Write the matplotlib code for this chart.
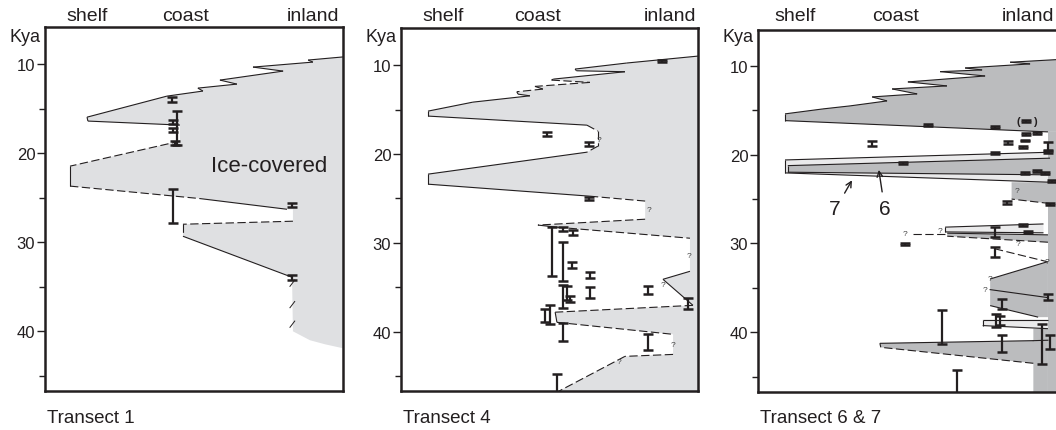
import numpy as np
import matplotlib.pyplot as plt
from matplotlib.patches import Polygon

plt.rcParams['font.family'] = ['Liberation Sans', 'DejaVu Sans']
plt.rcParams['lines.scale_dashes'] = False

ink = '#231f20'
ice = '#dfe0e2'
ice_dark = '#bbbcbe'
pale = '#eaeaeb'

zones = ['shelf', 'coast', 'inland']

# ice margin outlines: x = position along transect (0 shelf .. 1 inland), kya = age
# edge flag for the segment to the next vertex: 1 mapped, 0 inferred, None no line
t1_x = [1.0, 0.883, 0.899, 0.698, 0.799, 0.587, 0.644, 0.513, 0.530, 0.409,
        0.141, 0.144, 0.453, 0.453, 0.084, 0.084, 0.52, 0.812, 0.832, 0.832,
        0.463, 0.463, 0.829, 0.832, 0.889, 0.94, 1.0]
t1_kya = [9.2, 9.55, 9.78, 10.34, 10.79, 11.8, 12.25, 12.7, 13.03, 13.6,
          15.96, 16.4, 16.85, 18.65, 21.46, 23.7, 25.1, 26.3, 26.3, 27.64,
          27.98, 29.33, 33.93, 40.0, 41.0, 41.46, 41.9]
t1_edge = [1, 1, 1, 1, 1, 1, 1, 1, 1, 1,
           1, 1, None, 0, 1, 0, 1, None, None, 0,
           0, 1, None, None, None, None, None]

# short inferred ticks along the inland margin
t1_ticks_kya = [34.6, 37.0, 39.2]

t1_date_x = [0.425, 0.442, 0.43, 0.43, 0.435, 0.43, 0.828, 0.828]
t1_date_lo = [13.75, 15.25, 16.3, 17.2, 18.65, 24.05, 25.6, 33.65]
t1_date_hi = [14.25, 19.05, 16.7, 17.6, 19.05, 27.8, 26.0, 34.2]

t4_x = [1.0, 0.76, 0.586, 0.591, 0.754, 0.513, 0.507, 0.636, 0.451, 0.478,
        0.39, 0.394, 0.434, 0.242, 0.091, 0.091, 0.626, 0.663, 0.663, 0.626,
        0.091, 0.091, 0.636, 0.822, 0.822, 0.461, 0.525, 0.973, 0.973, 0.882,
        0.983, 0.519, 0.525, 0.916, 0.916, 0.754, 0.525, 1.0]
t4_kya = [8.99, 9.77, 10.45, 10.64, 10.75, 11.58, 11.69, 11.95, 12.4, 12.7,
          13.0, 13.27, 13.46, 14.17, 15.18, 15.74, 16.76, 17.43, 19.12, 19.8,
          22.27, 23.4, 24.75, 25.3, 27.34, 28.0, 28.24, 29.48, 33.2, 34.1,
          37.03, 37.8, 38.94, 40.29, 42.55, 42.77, 46.8, 46.8]
t4_edge = [1, 1, 1, 1, 1, 1, 0, 0, 0, 0,
           1, 1, 1, 1, 1, 1, 0, 0, 0, 1,
           1, 1, 0, None, 0, 1, 0, None, 1, 1,
           0, 1, 0, None, 0, 0, None, None]

t4_date_x = [0.88, 0.49, 0.634, 0.634, 0.507, 0.547, 0.578, 0.547, 0.575, 0.636,
             0.558, 0.569, 0.544, 0.636, 0.831, 0.967, 0.485, 0.5, 0.544, 0.833, 0.524]
t4_date_lo = [9.45, 17.55, 18.7, 24.8, 28.2, 28.2, 28.6, 29.95, 32.15, 33.3,
              34.9, 36.0, 34.7, 35.0, 34.8, 36.15, 37.4, 37.0, 39.0, 40.2, 44.8]
t4_date_hi = [9.7, 17.95, 19.1, 25.2, 33.75, 28.65, 29.1, 34.3, 32.8, 34.0,
              36.4, 36.7, 37.3, 36.2, 35.7, 37.4, 38.9, 39.1, 41.05, 42.05, 47.5]
t4_query_x = [0.668, 0.836, 0.971, 0.883, 0.915, 0.735]
t4_query_kya = [18.33, 26.3, 31.4, 34.66, 41.4, 43.4]

# transect 6 & 7: separate ice bodies
t67_upper_x = [1.0, 0.846, 0.913, 0.695, 0.752, 0.611, 0.762, 0.503, 0.634, 0.45,
               0.534, 0.383, 0.433, 0.309, 0.218, 0.0906, 0.0906, 0.973, 1.0]
t67_upper_kya = [9.29, 9.58, 9.77, 10.23, 10.45, 10.64, 11.13, 11.8, 12.25, 12.59,
                 13.15, 13.49, 13.94, 14.5, 14.84, 15.4, 16.16, 17.43, 17.43]
t67_upper_edge = [1] * 17 + [None, None]

t67_margin_x = [0.973, 1.0, 1.0, 0.973]
t67_margin_kya = [17.43, 17.43, 46.8, 46.8]
t67_margin_edge = [None, None, None, None]

t7_x = [0.0906, 0.98, 0.98, 0.0906]
t7_kya = [20.59, 19.72, 23.1, 22.05]
t7_edge = [1, None, 1, 1]

t6_x = [0.1, 0.98, 0.98, 0.1]
t6_kya = [21.23, 20.39, 22.27, 21.97]
t6_edge = [1, None, 1, 1]

t67_patch_x = [0.851, 0.973, 0.98, 0.851]
t67_patch_kya = [23.1, 23.1, 25.5, 25.0]
t67_patch_edge = [None, None, 0, None]

t67_lens28_x = [0.628, 0.958, 0.958, 0.628]
t67_lens28_kya = [28.16, 27.8, 28.8, 28.7]
t67_lens28_edge = [1, None, 1, 1]

t67_lobe29_x = [0.635, 0.973, 0.973, 0.635]
t67_lobe29_kya = [28.84, 29.03, 29.86, 29.18]
t67_lobe29_edge = [1, None, 0, None]

t67_wedge_x = [0.779, 0.973, 0.973, 0.94, 0.779]
t67_wedge_kya = [34.0, 32.04, 38.3, 38.3, 37.0]
t67_wedge_edge = [1, None, None, 1, None]

t67_lens39_x = [0.754, 0.973, 0.973, 0.754]
t67_lens39_kya = [38.57, 38.57, 39.6, 39.25]
t67_lens39_edge = [1, None, 1, 1]

t67_lobe41_x = [0.409, 0.924, 0.924, 0.973, 0.973, 0.924, 0.924, 0.412]
t67_lobe41_kya = [41.25, 40.95, 39.6, 39.6, 46.8, 46.8, 43.5, 41.7]
t67_lobe41_edge = [1, None, None, None, None, None, 0, 1]

# loose margin traces (x0, kya0, x1, kya1, mapped)
t67_traces = [(0.52, 28.9, 0.628, 28.9, 0),
              (0.795, 30.6, 0.969, 32.04, 0),
              (0.779, 35.2, 0.973, 36.1, 1),
              (0.924, 40.95, 0.973, 40.9, 1)]

t67_date_x = [0.569, 0.795, 0.382, 0.795, 0.488, 0.9, 0.84, 0.9, 0.935, 0.896,
              0.89, 0.974, 0.974, 0.896, 0.935, 0.963, 0.985, 0.834, 0.98, 0.493,
              0.795, 0.89, 0.907, 0.795, 0.974, 0.818, 0.616, 0.8, 0.812, 0.818,
              0.952, 0.98, 0.667]
t67_date_lo = [16.5, 16.75, 18.4, 19.7, 20.85, 16.05, 18.45, 17.55, 17.45, 18.3,
               19.05, 18.6, 19.6, 21.95, 21.75, 21.95, 22.8, 25.25, 25.45, 29.95,
               28.15, 27.8, 28.65, 30.4, 35.7, 36.2, 37.45, 37.9, 38.2, 40.35,
               39.05, 40.3, 44.3]
t67_date_hi = [16.75, 17.0, 19.0, 19.95, 21.1, 16.3, 18.75, 17.8, 17.7, 18.5,
               19.3, 19.5, 19.85, 22.2, 22.0, 22.2, 23.05, 25.5, 25.7, 30.2,
               29.3, 28.0, 28.85, 31.5, 36.4, 37.4, 41.3, 39.4, 39.2, 42.25,
               43.55, 41.9, 47.5]
t67_query_x = [0.868, 0.493, 0.611, 0.874, 0.969, 0.779, 0.762]
t67_query_kya = [24.04, 28.9, 28.55, 29.97, 32.04, 34.0, 35.2]


def draw_ice(ax, xs, ks, edges, color):
    ax.add_patch(Polygon(np.column_stack([xs, ks]), closed=True,
                         facecolor=color, edgecolor='none', zorder=1))
    n = len(xs)
    for i, e in enumerate(edges):
        if e is None:
            continue
        j = (i + 1) % n
        ax.plot([xs[i], xs[j]], [ks[i], ks[j]], color=ink, lw=0.8,
                ls='-' if e == 1 else (0, (6, 2.5)), zorder=3,
                solid_capstyle='butt')


def draw_dates(ax, xs, lo, hi):
    lo = np.array(lo)
    hi = np.array(hi)
    mid = (lo + hi) / 2
    ax.errorbar(xs, mid, yerr=[mid - lo, hi - mid], fmt='none', ecolor=ink,
                elinewidth=1.6, capsize=3.5, capthick=1.8, zorder=4)


def draw_queries(ax, xs, ks):
    for x, k in zip(xs, ks):
        ax.text(x, k, '?', fontsize=6, color='#444444', ha='center',
                va='center', zorder=5)


def setup(ax, top, zone_x, title):
    ax.set_xlim(0, 1)
    ax.set_ylim(46.7, top)
    ax.set_xticks([])
    ax.set_yticks([10, 20, 30, 40])
    ax.set_yticks([15, 25, 35, 45], minor=True)
    ax.tick_params(axis='y', which='major', length=6, width=1, pad=1,
                   labelsize=12, colors=ink)
    ax.tick_params(axis='y', which='minor', length=4, width=1, colors=ink)
    for s in ax.spines.values():
        s.set_linewidth(1.8)
        s.set_color(ink)
    for name, zx in zip(zones, zone_x):
        ax.annotate(name, xy=(zx, 0.951), xycoords=('axes fraction', 'figure fraction'),
                    ha='center', va='baseline', fontsize=14, color=ink)
    ax.annotate('Kya', xy=(0, 0.912), xycoords=('axes fraction', 'figure fraction'),
                xytext=(-3, 0), textcoords='offset points',
                ha='right', va='center', fontsize=13, color=ink)
    ax.annotate(title, xy=(0, 0.0186), xycoords=('axes fraction', 'figure fraction'),
                xytext=(1.5, 0), textcoords='offset points',
                ha='left', va='baseline', fontsize=13.5, color=ink)


fig = plt.figure(figsize=(10.56, 4.31), dpi=100)
ax1 = fig.add_axes([45 / 1056, 39 / 431, 298 / 1056, 364 / 431])
ax2 = fig.add_axes([401 / 1056, 38.7 / 431, 297 / 1056, 363.3 / 431])
ax3 = fig.add_axes([758 / 1056, 38.3 / 431, 300 / 1056, 361.7 / 431])

# Transect 1
setup(ax1, 5.84, [0.141, 0.473, 0.9], 'Transect 1')
draw_ice(ax1, t1_x, t1_kya, t1_edge, ice)
for k in t1_ticks_kya:
    ax1.plot([0.822, 0.838], [k + 0.35, k - 0.35], color=ink, lw=0.7, zorder=3)
draw_dates(ax1, t1_date_x, t1_date_lo, t1_date_hi)
ax1.text(0.557, 22.0, 'Ice-covered', fontsize=16, color=ink, ha='left',
         va='baseline', zorder=5)

# Transect 4
setup(ax2, 5.83, [0.141, 0.461, 0.906], 'Transect 4')
draw_ice(ax2, t4_x, t4_kya, t4_edge, ice)
draw_dates(ax2, t4_date_x, t4_date_lo, t4_date_hi)
draw_queries(ax2, t4_query_x, t4_query_kya)

# Transect 6 & 7
setup(ax3, 5.95, [0.124, 0.46, 0.9], 'Transect 6 & 7')
ax3.set_xlim(0, 300 / 298)
ax3.spines['right'].set_visible(False)
for xs, ks, ed in [(t7_x, t7_kya, t7_edge),
                   (t67_lens28_x, t67_lens28_kya, t67_lens28_edge),
                   (t67_lens39_x, t67_lens39_kya, t67_lens39_edge)]:
    draw_ice(ax3, xs, ks, ed, pale)
for xs, ks, ed in [(t67_upper_x, t67_upper_kya, t67_upper_edge),
                   (t67_margin_x, t67_margin_kya, t67_margin_edge),
                   (t6_x, t6_kya, t6_edge),
                   (t67_patch_x, t67_patch_kya, t67_patch_edge),
                   (t67_lobe29_x, t67_lobe29_kya, t67_lobe29_edge),
                   (t67_wedge_x, t67_wedge_kya, t67_wedge_edge),
                   (t67_lobe41_x, t67_lobe41_kya, t67_lobe41_edge)]:
    draw_ice(ax3, xs, ks, ed, ice_dark)
for x0, k0, x1, k1, firm in t67_traces:
    ax3.plot([x0, x1], [k0, k1], color=ink, lw=0.8,
             ls='-' if firm else (0, (6, 2.5)), zorder=3)
draw_dates(ax3, t67_date_x, t67_date_lo, t67_date_hi)
draw_queries(ax3, t67_query_x, t67_query_kya)
ax3.text(0.872, 16.15, '(', fontsize=8, fontweight='bold', color=ink,
         ha='center', va='center', zorder=5)
ax3.text(0.928, 16.15, ')', fontsize=8, fontweight='bold', color=ink,
         ha='center', va='center', zorder=5)

ax3.annotate('', xy=(0.32, 22.61), xytext=(0.286, 24.6),
             arrowprops=dict(arrowstyle='->', lw=1, color=ink))
ax3.annotate('', xy=(0.404, 21.4), xytext=(0.418, 24.5),
             arrowprops=dict(arrowstyle='->', lw=1, color=ink))
ax3.text(0.258, 26.1, '7', fontsize=15, color=ink, ha='center', va='center')
ax3.text(0.426, 26.1, '6', fontsize=15, color=ink, ha='center', va='center')

fig.savefig('out.png', dpi=100)
